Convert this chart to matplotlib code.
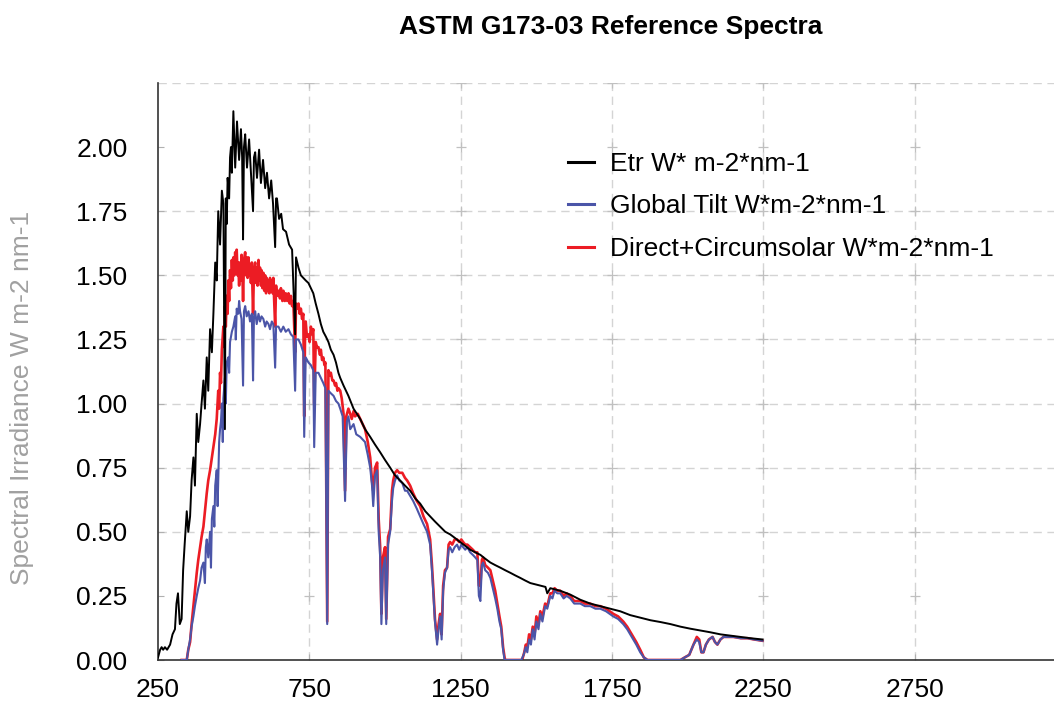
import matplotlib
matplotlib.use("Agg")
import matplotlib.pyplot as plt
import numpy as np

plt.rcParams['font.family'] = ['Liberation Sans', 'DejaVu Sans']

# values (x in the chart's own axis units)
etr_wl = [250, 257, 262, 267, 273, 280, 290, 298, 306, 311, 316, 322, 328, 333, 338, 345, 350, 356, 361, 367,
          372, 378, 383, 389, 394, 400, 405, 411, 416, 422, 428, 433, 439, 444, 449, 455, 461, 466, 471, 474,
          477, 480, 485, 488, 491, 494, 499, 505, 511, 518, 524, 528, 531, 534, 538, 544, 551, 557, 564, 567,
          571, 577, 584, 590, 597, 604, 610, 617, 624, 630, 637, 640, 643, 650, 657, 663, 673, 683, 693, 703,
          706, 714, 722, 730, 738, 747, 755, 763, 771, 780, 788, 796, 805, 813, 821, 830, 838, 846, 852,
          863, 879, 896, 918, 934, 951, 967, 984, 1000, 1017, 1033, 1050, 1066, 1083, 1100, 1116, 1133, 1149,
          1165, 1182, 1199, 1215, 1232, 1248, 1265, 1281, 1298, 1315, 1331, 1348, 1364, 1381, 1397, 1414,
          1430, 1447, 1463, 1480, 1497, 1513, 1530, 1536, 1546, 1579, 1612, 1645, 1678, 1711, 1744, 1777, 1810,
          1843, 1877, 1910, 1943, 1976, 2009, 2042, 2075, 2108, 2141, 2174, 2207, 2247]
etr = [0.01, 0.04, 0.05, 0.04, 0.05, 0.04, 0.06, 0.10, 0.12, 0.22, 0.26, 0.14, 0.16, 0.35, 0.45, 0.58, 0.50, 0.56, 0.70, 0.79,
       0.68, 0.96, 0.85, 0.92, 1.00, 1.09, 0.98, 1.18, 1.05, 1.29, 1.20, 1.35, 1.55, 1.48, 1.75, 1.62, 1.83, 1.78, 0.90, 1.80,
       1.70, 1.88, 1.80, 1.96, 2.00, 1.90, 2.14, 1.92, 2.10, 1.95, 2.07, 1.96, 1.64, 2.00, 2.05, 1.92, 2.03, 1.90, 1.75, 1.96,
       1.98, 1.88, 1.99, 1.86, 1.95, 1.84, 1.90, 1.80, 1.87, 1.78, 1.61, 1.80, 1.80, 1.72, 1.74, 1.68, 1.67, 1.62, 1.60, 1.27,
       1.57, 1.53, 1.50, 1.49, 1.48, 1.47, 1.45, 1.43, 1.39, 1.35, 1.31, 1.28, 1.26, 1.24, 1.21, 1.19, 1.16, 1.12, 1.10,
       1.07, 1.03, 0.98, 0.94, 0.90, 0.87, 0.84, 0.81, 0.78, 0.75, 0.72, 0.70, 0.68, 0.66, 0.63, 0.61, 0.58, 0.56,
       0.54, 0.52, 0.50, 0.49, 0.475, 0.46, 0.445, 0.43, 0.42, 0.41, 0.395, 0.38, 0.37, 0.36, 0.35, 0.34,
       0.33, 0.32, 0.31, 0.30, 0.295, 0.29, 0.285, 0.26, 0.28, 0.27, 0.255, 0.235, 0.22, 0.21, 0.20, 0.19, 0.175,
       0.165, 0.155, 0.148, 0.14, 0.13, 0.122, 0.115, 0.108, 0.10, 0.095, 0.09, 0.085, 0.08]

glob_wl = [328, 345, 350, 356, 361, 367, 372, 378, 383, 389, 394, 400, 405, 408, 411, 416, 422, 425, 428, 433,
           436, 439, 444, 447, 452, 455, 458, 461, 464, 466, 471, 474, 477, 482, 485, 488, 494, 499, 505, 507,
           510, 515, 518, 521, 526, 531, 534, 538, 543, 549, 554, 560, 564, 567, 571, 576, 582, 587, 592, 598,
           604, 609, 615, 620, 626, 631, 637, 640, 648, 656, 664, 672, 681, 689, 697, 703, 706, 714, 722, 730,
           733, 738, 747, 755, 763, 766, 771, 780, 788, 796, 803, 809, 813, 821, 830, 838, 846, 852, 860, 868,
           874, 879, 885, 896, 905, 918, 926, 934, 943, 951, 957, 961, 967, 974, 979, 984, 988, 993, 1000, 1004,
           1010, 1017, 1023, 1027, 1033, 1040, 1047, 1057, 1066, 1073, 1083, 1093, 1105, 1116, 1127, 1139, 1149,
           1155, 1159, 1165, 1172, 1177, 1182, 1187, 1192, 1198, 1205, 1210, 1215, 1222, 1230, 1238, 1245, 1252,
           1258, 1265, 1272, 1281, 1290, 1298, 1305, 1310, 1315, 1320, 1324, 1331, 1340, 1348, 1356, 1364, 1371,
           1378, 1384, 1390, 1395, 1450, 1458, 1465, 1470, 1476, 1482, 1488, 1494, 1500, 1507, 1513, 1520, 1529,
           1536, 1546, 1553, 1560, 1569, 1579, 1590, 1600, 1612, 1625, 1645, 1660, 1678, 1695, 1711, 1730, 1754,
           1770, 1787, 1800, 1810, 1820, 1830, 1843, 1855, 1867, 1976, 1990, 2005, 2019, 2030, 2038, 2045, 2052,
           2060, 2070, 2082, 2090, 2098, 2108, 2118, 2135, 2151, 2175, 2197, 2220, 2247]
glob = [0.0, 0.0, 0.04, 0.08, 0.13, 0.17, 0.21, 0.25, 0.28, 0.31, 0.36, 0.38, 0.30, 0.44, 0.47, 0.40, 0.50, 0.36, 0.55, 0.60,
        0.52, 0.68, 0.74, 0.60, 0.85, 0.90, 0.93, 1.00, 0.85, 1.02, 1.10, 1.00, 1.16, 1.18, 1.12, 1.24, 1.28, 1.30, 1.34, 1.25,
        1.37, 1.35, 1.40, 1.36, 1.33, 1.07, 1.36, 1.38, 1.34, 1.36, 1.32, 1.35, 1.09, 1.34, 1.36, 1.31, 1.35, 1.32, 1.34, 1.33,
        1.30, 1.32, 1.31, 1.29, 1.32, 1.31, 1.14, 1.30, 1.30, 1.28, 1.30, 1.28, 1.29, 1.27, 1.26, 1.05, 1.25, 1.25, 1.23, 1.20,
        0.87, 1.18, 1.16, 1.15, 1.13, 0.83, 1.12, 1.12, 1.10, 1.08, 1.06, 0.14, 1.05, 1.04, 1.03, 1.01, 1.00, 0.98, 0.95, 0.62,
        0.93, 0.95, 0.90, 0.92, 0.88, 0.87, 0.86, 0.85, 0.80, 0.75, 0.68, 0.60, 0.72, 0.74, 0.50, 0.40, 0.14, 0.35, 0.40, 0.14,
        0.45, 0.50, 0.62, 0.67, 0.70, 0.72, 0.70, 0.69, 0.66, 0.66, 0.64, 0.62, 0.59, 0.56, 0.53, 0.50, 0.45,
        0.35, 0.27, 0.15, 0.06, 0.12, 0.17, 0.08, 0.27, 0.34, 0.36, 0.43, 0.44, 0.42, 0.44, 0.45, 0.43, 0.45,
        0.44, 0.43, 0.44, 0.42, 0.41, 0.40, 0.39, 0.25, 0.23, 0.37, 0.38, 0.35, 0.34, 0.32, 0.28, 0.24, 0.20,
        0.15, 0.12, 0.04, 0.0, 0.0, 0.02, 0.05, 0.03, 0.08, 0.06, 0.12, 0.08, 0.15, 0.12, 0.18, 0.15, 0.21,
        0.20, 0.25, 0.24, 0.27, 0.26, 0.26, 0.24, 0.25, 0.24, 0.22, 0.22, 0.21, 0.21, 0.20, 0.20, 0.19, 0.17,
        0.16, 0.14, 0.12, 0.10, 0.08, 0.06, 0.03, 0.01, 0.0, 0.0, 0.01, 0.02, 0.06, 0.08, 0.07, 0.03, 0.03,
        0.06, 0.08, 0.09, 0.07, 0.06, 0.08, 0.09, 0.09, 0.09, 0.085, 0.085, 0.08, 0.075]

direct_wl = [328, 345, 350, 356, 361, 367, 372, 378, 383, 389, 394, 400, 405, 411, 416, 422, 428, 433, 439, 444,
             449, 452, 455, 458, 461, 466, 469, 471, 474, 477, 480, 482, 485, 488, 491, 494, 497, 499, 502, 505,
             508, 510, 513, 515, 518, 521, 524, 526, 529, 531, 534, 538, 541, 543, 546, 549, 552, 554, 557, 560,
             564, 567, 571, 574, 576, 579, 582, 585, 587, 590, 592, 595, 598, 601, 604, 607, 609, 612, 615, 618,
             620, 623, 626, 629, 631, 637, 640, 643, 648, 653, 656, 661, 664, 669, 672, 677, 681, 685, 689, 693,
             697, 703, 706, 710, 714, 718, 722, 726, 730, 733, 736, 738, 742, 747, 751, 755, 759, 763, 766, 771,
             775, 780, 785, 788, 792, 796, 800, 803, 809, 813, 818, 821, 826, 830, 835, 838, 843, 846, 852, 857,
             863, 868, 872, 879, 885, 890, 896, 901, 910, 918, 926, 934, 943, 951, 957, 961, 967, 974, 979, 984,
             988, 993, 1000, 1004, 1010, 1017, 1023, 1027, 1033, 1040, 1047, 1057, 1066, 1073, 1083, 1093, 1105,
             1116, 1127, 1139, 1149, 1155, 1159, 1165, 1172, 1177, 1182, 1187, 1192, 1198, 1205, 1210, 1215, 1222,
             1230, 1238, 1245, 1252, 1258, 1265, 1272, 1281, 1290, 1298, 1305, 1310, 1315, 1320, 1324, 1331, 1340,
             1348, 1356, 1364, 1371, 1378, 1384, 1390, 1395, 1397, 1453, 1460, 1465, 1470, 1476, 1482, 1488, 1494,
             1500, 1507, 1513, 1520, 1529, 1536, 1546, 1553, 1560, 1569, 1579, 1590, 1600, 1612, 1625, 1645, 1660,
             1678, 1695, 1711, 1730, 1754, 1770, 1787, 1800, 1810, 1820, 1830, 1843, 1855, 1867, 1976, 1990, 2005,
             2019, 2030, 2038, 2045, 2052, 2060, 2070, 2082, 2090, 2098, 2108, 2118, 2135, 2151, 2175, 2197, 2220,
             2247]
direct = [0.0, 0.0, 0.04, 0.07, 0.14, 0.21, 0.27, 0.34, 0.39, 0.44, 0.48, 0.52, 0.58, 0.65, 0.70, 0.74, 0.79, 0.83, 0.88, 0.94,
          1.05, 0.98, 1.12, 1.08, 1.21, 1.30, 1.22, 1.38, 1.30, 1.42, 1.35, 1.48, 1.40, 1.52, 1.45, 1.56, 1.48, 1.57, 1.50, 1.59,
          1.52, 1.60, 1.50, 1.55, 1.46, 1.55, 1.48, 1.58, 1.50, 1.40, 1.56, 1.59, 1.50, 1.57, 1.49, 1.57, 1.50, 1.54, 1.47, 1.55,
          1.35, 1.52, 1.55, 1.47, 1.53, 1.46, 1.56, 1.48, 1.53, 1.46, 1.52, 1.45, 1.51, 1.44, 1.50, 1.43, 1.49, 1.44, 1.48, 1.43,
          1.49, 1.44, 1.48, 1.43, 1.49, 1.30, 1.46, 1.42, 1.44, 1.41, 1.45, 1.40, 1.44, 1.40, 1.43, 1.40, 1.43, 1.39, 1.42, 1.38,
          1.40, 1.20, 1.39, 1.37, 1.39, 1.35, 1.37, 1.33, 1.35, 0.95, 1.30, 1.32, 1.26, 1.27, 1.24, 1.30, 1.27, 1.29, 1.00, 1.24,
          1.22, 1.22, 1.19, 1.21, 1.17, 1.18, 1.15, 1.16, 0.15, 1.13, 1.11, 1.12, 1.09, 1.09, 1.07, 1.08, 1.05, 1.06, 1.05, 1.02,
          0.96, 0.66, 0.95, 0.98, 0.96, 0.94, 0.97, 0.95, 0.96, 0.94, 0.92, 0.90, 0.85, 0.79, 0.70, 0.66, 0.75, 0.77, 0.55, 0.44,
          0.18, 0.40, 0.44, 0.16, 0.48, 0.51, 0.66, 0.70, 0.73, 0.74, 0.73, 0.73, 0.71, 0.70, 0.68, 0.65, 0.62,
          0.60, 0.56, 0.53, 0.47, 0.37, 0.29, 0.16, 0.08, 0.14, 0.18, 0.10, 0.29, 0.35, 0.36, 0.45, 0.46, 0.45,
          0.47, 0.47, 0.46, 0.47, 0.46, 0.45, 0.45, 0.44, 0.43, 0.42, 0.42, 0.29, 0.29, 0.39, 0.40, 0.37, 0.36,
          0.35, 0.31, 0.27, 0.22, 0.17, 0.13, 0.05, 0.01, 0.0, 0.0, 0.03, 0.06, 0.05, 0.10, 0.08, 0.13, 0.10,
          0.17, 0.14, 0.19, 0.17, 0.22, 0.21, 0.26, 0.26, 0.28, 0.27, 0.27, 0.25, 0.26, 0.25, 0.23, 0.23, 0.22,
          0.22, 0.21, 0.21, 0.20, 0.18, 0.17, 0.15, 0.13, 0.11, 0.09, 0.07, 0.04, 0.01, 0.0, 0.0, 0.01, 0.02,
          0.06, 0.09, 0.08, 0.03, 0.03, 0.06, 0.08, 0.09, 0.07, 0.06, 0.08, 0.09, 0.09, 0.09, 0.085, 0.085, 0.08,
          0.075]

x_ticks = [250, 750, 1250, 1750, 2250, 2750]
y_ticks = [0.0, 0.25, 0.5, 0.75, 1.0, 1.25, 1.5, 1.75, 2.0]
grid_y = [0.5, 0.75, 1.0, 1.25, 1.5, 1.75, 2.25]
cross_y = [0.25, 0.5, 0.75, 1.0, 1.25, 1.5, 1.75, 2.0, 2.25]

fig = plt.figure(figsize=(10.54, 7.22), dpi=100)
ax = fig.add_axes([158 / 1054, 62 / 722, 896 / 1054, 577 / 722])

grid_col = '#d4d4d4'
for xv in x_ticks[1:]:
    ax.axvline(xv, color=grid_col, lw=1, ls=(0, (6, 4)), zorder=0)
for yv in grid_y:
    ax.axhline(yv, color=grid_col, lw=1, ls=(0, (6, 4)), zorder=0)
cx, cy = np.meshgrid(x_ticks[1:], cross_y)
ax.plot(cx.ravel(), cy.ravel(), ls='none', marker='+', ms=7, mew=0.9, color='#c0c0c0', zorder=0)

ax.plot(direct_wl, direct, color='#ec1c24', lw=1.9, zorder=2, label='Direct+Circumsolar W*m-2*nm-1')
ax.plot(glob_wl, glob, color='#4b55a8', lw=1.5, zorder=3, label='Global Tilt W*m-2*nm-1')
ax.plot(etr_wl, etr, color='black', lw=1.4, zorder=4, label='Etr W* m-2*nm-1')

ax.set_xlim(250, 3210)
ax.set_ylim(0, 2.25)
ax.set_xticks(x_ticks)
ax.set_yticks(y_ticks)
ax.set_yticklabels(['%.2f' % v for v in y_ticks])
ax.tick_params(axis='both', direction='in', length=4, color='#b0b0b0', labelsize=19)
ax.tick_params(axis='y', pad=22)
ax.tick_params(axis='x', pad=13)

for s in ['top', 'right']:
    ax.spines[s].set_visible(False)
ax.spines['left'].set_color('#333333')
ax.spines['bottom'].set_color('#333333')
ax.spines['left'].set_linewidth(1.2)
ax.spines['bottom'].set_linewidth(1.2)

handles, labels = ax.get_legend_handles_labels()
order = [2, 1, 0]
leg = ax.legend([handles[i] for i in order], [labels[i] for i in order],
                loc='upper left', bbox_to_anchor=(568 / 1054, 1 - 152 / 722),
                bbox_transform=fig.transFigure, frameon=False, fontsize=19,
                handlelength=1.0, handletextpad=0.6, labelspacing=0.7,
                borderpad=0, borderaxespad=0)
for line in leg.get_lines():
    line.set_linewidth(2.2)

fig.text(611 / 1054, 1 - 27 / 722, 'ASTM G173-03 Reference Spectra', ha='center', va='center',
         fontsize=19, fontweight='bold')
fig.text(22 / 1054, 1 - 398 / 722, 'Spectral Irradiance W m-2 nm-1', rotation=90, ha='center',
         va='center', fontsize=19, color='#a0a0a0')

fig.savefig('out.png', dpi=100)
